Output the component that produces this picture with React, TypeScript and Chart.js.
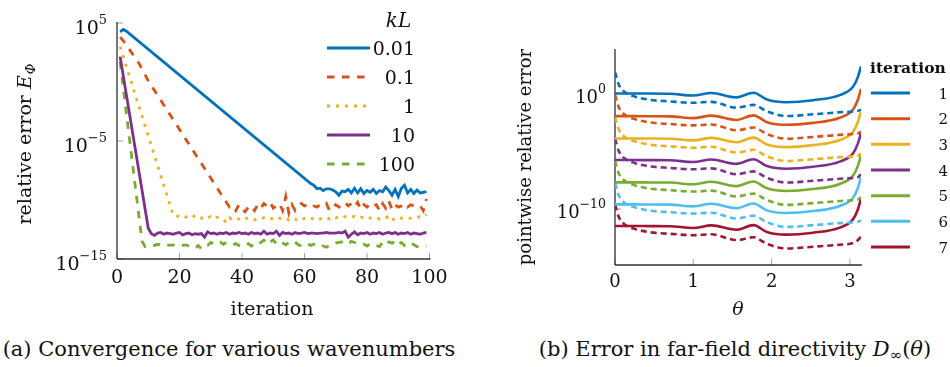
import React, { useEffect, useRef } from "react";
import { Chart, registerables } from "chart.js";
Chart.register(...registerables);

const SERIF = '"DejaVu Serif", serif';

// ---------------- (a) Convergence: log10 of relative error vs iteration ----------------
const kLLabels = ["0.01", "0.1", "1", "10", "100"];
const kLColors = ["#0072BD", "#D95319", "#EDB120", "#7E2F8E", "#77AC30"];
const kLDashes: number[][] = [[], [7.5, 7.5], [3, 6], [], [7.5, 7.5]];
const xTicksA = [0, 20, 40, 60, 80, 100];
const yTicksA = [5, -5, -15];
const xRangeA = [0, 100];
const yRangeA = [-15, 5];

// descent part: [iteration, log10 error]
const head001 = [[1, 4.25], [2, 4.45], [3, 4.3]];
const tail001Start = 62;
const tail001 = [-8.6, -8.75, -9.05, -9.0, -9.2, -9.05, -9.05, -9.15, -9.3, -9.6, -9.25, -9.3, -9.1, -9.4, -9.0, -9.4, -9.05, -9.45, -9.2, -9.35, -9.1, -9.45, -9.2, -9.3, -8.9, -9.2, -9.6, -9.1, -9.7, -9.0, -8.75, -9.4, -9.1, -9.45, -9.15, -9.4, -9.35, -9.3];

const head01 = [[1, 3.8], [2, 3.5], [7, 1.6], [10, 0.1], [35, -10.2]];
const tail01Start = 36;
const tail01 = [-10.6, -10.5, -10.9, -10.4, -10.8, -11.0, -10.6, -10.5, -10.9, -10.4, -10.7, -10.3, -10.5, -10.2, -10.7, -10.5, -10.3, -10.9, -9.7, -11.1, -10.4, -10.9, -10.5, -10.3, -10.5, -10.4, -10.6, -10.5, -10.6, -10.4, -10.5, -10.3, -10.9, -10.6, -10.4, -10.6, -10.3, -10.2, -10.5, -10.3, -10.6, -10.2, -10.8, -10.4, -10.6, -10.3, -10.5, -10.4, -10.9, -10.3, -10.7, -10.1, -10.8, -10.4, -10.6, -10.5, -10.3, -10.6, -10.4, -10.5, -10.6, -10.5, -10.9, -9.9];

const head1 = [[1, 3.0], [18, -11.3]];
const tail1Start = 19;
const tail1 = [-11.35, -11.4, -11.3, -11.45, -11.35, -11.5, -11.3, -11.4, -11.55, -11.35, -11.5, -11.4, -11.6, -11.45, -11.5, -11.65, -11.9, -11.5, -11.7, -11.55, -11.6, -11.75, -11.6, -11.5, -11.6, -11.7, -11.55, -11.6, -11.5, -11.65, -11.55, -11.6, -11.7, -11.55, -11.6, -11.5, -11.7, -11.55, -11.6, -11.8, -11.7, -11.55, -11.65, -11.55, -11.6, -11.45, -11.6, -11.5, -11.45, -11.6, -11.4, -11.5, -11.45, -11.55, -11.4, -11.5, -11.45, -11.4, -11.55, -11.45, -11.5, -11.4, -11.55, -11.45, -11.5, -11.6, -11.45, -11.5, -11.4, -11.75, -11.5, -11.45, -11.55, -11.45, -11.5, -11.55, -11.45, -11.5, -11.4, -11.45, -11.2];

const head10 = [[1, 2.15], [10, -12.4], [11, -12.85], [12, -13.0]];
const tail10Start = 13;
const tail10 = [-12.8, -12.75, -12.9, -12.8, -12.85, -12.9, -12.8, -12.75, -12.95, -12.85, -12.8, -12.95, -12.85, -12.9, -12.85, -13.15, -12.7, -12.85, -12.8, -12.9, -12.8, -12.85, -12.75, -12.9, -12.8, -12.85, -12.75, -12.85, -12.8, -12.9, -12.75, -12.85, -12.8, -12.9, -12.65, -12.9, -12.8, -12.85, -12.65, -13.0, -12.75, -12.85, -12.8, -12.9, -12.75, -12.85, -12.8, -12.75, -12.85, -12.8, -12.8, -12.85, -12.8, -12.8, -12.75, -12.8, -12.8, -12.8, -12.75, -12.8, -12.65, -13.15, -12.9, -12.7, -12.95, -12.8, -12.85, -12.75, -12.9, -12.8, -12.85, -12.75, -12.9, -12.8, -12.75, -12.85, -12.75, -12.9, -12.8, -12.85, -12.75, -12.9, -12.8, -12.85, -12.9, -12.8, -12.75];

const head100 = [[1, 1.7], [8, -13.5]];
const tail100Start = 9;
const tail100 = [-13.95, -13.9, -13.8, -13.85, -13.75, -13.8, -13.7, -13.8, -13.85, -13.8, -13.85, -13.9, -13.85, -13.8, -13.9, -13.95, -14.1, -13.85, -14.15, -13.9, -13.85, -13.6, -13.75, -13.6, -13.55, -13.75, -13.6, -13.7, -13.8, -13.7, -13.85, -13.95, -13.8, -13.7, -13.9, -13.75, -13.85, -13.6, -13.4, -13.75, -13.55, -13.4, -13.7, -13.5, -13.65, -13.8, -13.6, -13.7, -13.55, -13.8, -13.9, -13.75, -13.7, -13.85, -13.75, -13.65, -13.8, -13.9, -14.0, -13.85, -13.8, -13.65, -13.6, -13.55, -13.6, -13.75, -13.5, -13.6, -13.7, -13.8, -13.75, -13.9, -13.7, -13.8, -13.85, -13.95, -13.6, -13.8, -13.55, -13.65, -13.45, -13.75, -13.6, -13.85, -13.7, -13.6, -13.8, -13.95, -13.85, -13.9, -13.9];

const headsA = [head001, head01, head1, head10, head100];
const tailStartsA = [tail001Start, tail01Start, tail1Start, tail10Start, tail100Start];
const tailsA = [tail001, tail01, tail1, tail10, tail100];

// ---------------- (b) Pointwise error vs theta (log10) ----------------
const iterLabels = ["1", "2", "3", "4", "5", "6", "7"];
const iterColors = ["#0072BD", "#D95319", "#EDB120", "#7E2F8E", "#77AC30", "#4DBEEE", "#A2142F"];
const xTicksB = [0, 1, 2, 3];
const yTicksB = [0, -10];
const xRangeB = [0, Math.PI];
const yRangeB = [-14.85, 3.77];
const theta = [0, 0.05, 0.12, 0.25, 0.45, 0.7, 1.0, 1.23, 1.55, 1.77, 1.94, 2.19, 2.53, 2.87, 3.04, 3.1, 3.1416];

const solid1 = [0, 0, 0, 0, 0, -0.02, -0.17, 0.05, -0.33, 0.07, -0.52, -0.75, -0.58, -0.14, 0.58, 1.4, 2.35];
const solid2 = [-1.96, -1.96, -1.96, -1.96, -1.97, -1.98, -2.13, -1.91, -2.29, -1.89, -2.48, -2.71, -2.54, -2.1, -1.38, -0.56, 0.4];
const solid3 = [-3.89, -3.89, -3.89, -3.89, -3.9, -3.91, -4.06, -3.84, -4.22, -3.82, -4.41, -4.64, -4.47, -4.03, -3.31, -2.49, -1.54];
const solid4 = [-5.76, -5.76, -5.76, -5.76, -5.77, -5.78, -5.93, -5.71, -6.09, -5.69, -6.28, -6.51, -6.34, -5.9, -5.18, -4.36, -3.41];
const solid5 = [-7.69, -7.69, -7.69, -7.69, -7.7, -7.71, -7.86, -7.64, -8.02, -7.62, -8.21, -8.44, -8.27, -7.83, -7.11, -6.29, -5.34];
const solid6 = [-9.6, -9.6, -9.6, -9.6, -9.61, -9.62, -9.77, -9.55, -9.93, -9.53, -10.12, -10.35, -10.18, -9.74, -9.02, -8.2, -7.25];
const solid7 = [-11.47, -11.47, -11.47, -11.47, -11.48, -11.49, -11.64, -11.42, -11.8, -11.4, -11.99, -12.22, -12.05, -11.61, -10.89, -10.07, -9.12];

const dashed1 = [1.85, 0.75, 0.15, -0.25, -0.55, -0.68, -0.8, -0.72, -1.22, -0.98, -1.55, -1.95, -1.8, -1.62, -1.55, -1.5, -1.4];
const dashed2 = [-0.11, -1.21, -1.81, -2.21, -2.51, -2.64, -2.76, -2.68, -3.18, -2.94, -3.51, -3.91, -3.76, -3.58, -3.51, -3.46, -3.3];
const dashed3 = [-2.04, -3.14, -3.74, -4.14, -4.44, -4.57, -4.69, -4.61, -5.11, -4.87, -5.44, -5.84, -5.69, -5.51, -5.44, -5.39, -5.2];
const dashed4 = [-3.91, -5.01, -5.61, -6.01, -6.31, -6.44, -6.56, -6.48, -6.98, -6.74, -7.31, -7.71, -7.56, -7.38, -7.31, -7.26, -7.0];
const dashed5 = [-5.84, -6.94, -7.54, -7.94, -8.24, -8.37, -8.49, -8.41, -8.91, -8.67, -9.24, -9.64, -9.49, -9.31, -9.24, -9.19, -9.0];
const dashed6 = [-7.75, -8.85, -9.45, -9.85, -10.15, -10.28, -10.4, -10.32, -10.82, -10.58, -11.15, -11.55, -11.4, -11.22, -11.15, -11.1, -11.0];
const dashed7 = [-9.62, -10.72, -11.32, -11.72, -12.02, -12.15, -12.27, -12.19, -12.69, -12.45, -13.02, -13.42, -13.27, -13.09, -12.95, -12.7, -12.4];

const solidsB = [solid1, solid2, solid3, solid4, solid5, solid6, solid7];
const dashedsB = [dashed1, dashed2, dashed3, dashed4, dashed5, dashed6, dashed7];

// ---------------- drawing helpers ----------------
function line(ctx: CanvasRenderingContext2D, x1: number, y1: number, x2: number, y2: number) {
  ctx.beginPath();
  ctx.moveTo(x1, y1);
  ctx.lineTo(x2, y2);
  ctx.stroke();
}

function drawPow(ctx: CanvasRenderingContext2D, exp: number, rightX: number, tickY: number, bs: number, es: number, bOff: number, eOff: number) {
  const expStr = exp < 0 ? "\u2212" + Math.abs(exp) : String(exp);
  ctx.textAlign = "left";
  ctx.textBaseline = "alphabetic";
  ctx.font = `${bs}px ${SERIF}`;
  const wb = ctx.measureText("10").width;
  ctx.font = `${es}px ${SERIF}`;
  const we = ctx.measureText(expStr).width;
  ctx.font = `${bs}px ${SERIF}`;
  ctx.fillText("10", rightX - we - wb, tickY + bOff);
  ctx.font = `${es}px ${SERIF}`;
  ctx.fillText(expStr, rightX - we, tickY + eOff);
}

type AxisCfg = {
  xTicks: number[];
  yTicks: number[];
  xFmt: (v: number) => string;
  tickFont: number;
  expFont: number;
  yLabelRight: number;
  baseOff: number;
  expOff: number;
  xLabelBaseline: number;
  innerTicks: boolean;
};

function axesPlugin(cfg: AxisCfg, drawExtra: (chart: any) => void) {
  return {
    id: "customAxes",
    beforeDatasetsDraw(chart: any) {
      const { ctx, chartArea: a, scales } = chart;
      const x = scales.x, y = scales.y;
      ctx.save();
      ctx.strokeStyle = "#a0a0a0";
      ctx.lineWidth = 1;
      for (const t of cfg.xTicks) {
        const px = x.getPixelForValue(t);
        line(ctx, px, a.bottom, px, a.bottom - 6);
      }
      for (const e of cfg.yTicks) {
        const py = y.getPixelForValue(Math.pow(10, e));
        line(ctx, a.left, py, a.left + 6, py);
      }
      ctx.strokeStyle = "#2e2e2e";
      ctx.lineWidth = 1.3;
      line(ctx, a.left, a.top - 1, a.left, a.bottom);
      line(ctx, a.left, a.bottom, a.right + 1, a.bottom);
      ctx.restore();
    },
    afterDraw(chart: any) {
      const { ctx, scales } = chart;
      const x = scales.x, y = scales.y;
      ctx.save();
      ctx.fillStyle = "#111";
      ctx.font = `${cfg.tickFont}px ${SERIF}`;
      ctx.textAlign = "center";
      ctx.textBaseline = "alphabetic";
      for (const t of cfg.xTicks) {
        ctx.fillText(cfg.xFmt(t), x.getPixelForValue(t), cfg.xLabelBaseline);
      }
      for (const e of cfg.yTicks) {
        drawPow(ctx, e, cfg.yLabelRight, y.getPixelForValue(Math.pow(10, e)), cfg.tickFont, cfg.expFont, cfg.baseOff, cfg.expOff);
      }
      drawExtra(chart);
      ctx.restore();
    },
  };
}

const baseOptions = (xr: number[], yr: number[], pad: any) => ({
  responsive: false,
  animation: false as const,
  events: [] as any[],
  layout: { padding: pad },
  plugins: { legend: { display: false }, tooltip: { enabled: false } },
  scales: {
    x: { type: "linear" as const, min: xr[0], max: xr[1], display: false },
    y: { type: "logarithmic" as const, min: Math.pow(10, yr[0]), max: Math.pow(10, yr[1]), display: false },
  },
});

export default function App() {
  const refA = useRef<HTMLCanvasElement>(null);
  const refB = useRef<HTMLCanvasElement>(null);

  useEffect(() => {
    // ----- chart (a) -----
    const dsA = kLLabels.map((lab, i) => {
      const pts = headsA[i].map((p) => ({ x: p[0], y: Math.pow(10, p[1]) }));
      tailsA[i].forEach((v, j) => pts.push({ x: tailStartsA[i] + j, y: Math.pow(10, v) }));
      return {
        label: lab,
        data: pts,
        borderColor: kLColors[i],
        borderWidth: 2.8,
        borderDash: kLDashes[i],
        pointRadius: 0,
        fill: false,
        tension: 0,
      };
    });

    const extraA = (chart: any) => {
      const ctx: CanvasRenderingContext2D = chart.ctx;
      // y title
      ctx.save();
      ctx.translate(31, 144);
      ctx.rotate(-Math.PI / 2);
      ctx.textBaseline = "alphabetic";
      ctx.textAlign = "left";
      const t1 = "relative error ";
      ctx.font = `19px ${SERIF}`;
      const w1 = ctx.measureText(t1).width;
      ctx.font = `italic 19px ${SERIF}`;
      const w2 = ctx.measureText("E").width;
      ctx.font = `italic 13px ${SERIF}`;
      const w3 = ctx.measureText("\u03A6").width;
      const start = -(w1 + w2 + w3 + 1) / 2;
      ctx.font = `19px ${SERIF}`;
      ctx.fillText(t1, start, 0);
      ctx.font = `italic 19px ${SERIF}`;
      ctx.fillText("E", start + w1, 0);
      ctx.font = `italic 13px ${SERIF}`;
      ctx.fillText("\u03A6", start + w1 + w2 + 1, 4);
      ctx.restore();
      // x title
      ctx.font = `19px ${SERIF}`;
      ctx.textAlign = "center";
      ctx.fillText("iteration", 272, 315);
      // legend
      ctx.font = `italic 20px ${SERIF}`;
      ctx.fillText("kL", 398.5, 27);
      chart.data.datasets.forEach((ds: any, i: number) => {
        const ly = 48 + 29 * i;
        ctx.save();
        ctx.strokeStyle = ds.borderColor;
        ctx.lineWidth = 3;
        ctx.setLineDash(ds.borderDash);
        line(ctx, 327, ly, 370, ly);
        ctx.restore();
        ctx.font = `19px ${SERIF}`;
        ctx.textAlign = "right";
        ctx.fillText(ds.label, 415, ly + 7);
      });
    };

    const chartA = new Chart(refA.current!, {
      type: "line",
      data: { datasets: dsA as any },
      options: baseOptions(xRangeA, yRangeA, { left: 117, right: 45.5, top: 23, bottom: 61 }) as any,
      plugins: [
        axesPlugin(
          {
            xTicks: xTicksA,
            yTicks: yTicksA,
            xFmt: (v) => String(v),
            tickFont: 19,
            expFont: 13,
            yLabelRight: 107,
            baseOff: 10.5,
            expOff: 1,
            xLabelBaseline: 283,
            innerTicks: true,
          },
          extraA
        ),
      ],
    });

    // ----- chart (b) -----
    const dsB: any[] = [];
    iterLabels.forEach((lab, i) => {
      dsB.push({
        label: lab,
        data: theta.map((t, j) => ({ x: t, y: Math.pow(10, solidsB[i][j]) })),
        borderColor: iterColors[i],
        borderWidth: 2.6,
        pointRadius: 0,
        fill: false,
        cubicInterpolationMode: "monotone",
      });
      dsB.push({
        label: lab + " (dashed)",
        data: theta.map((t, j) => ({ x: t, y: Math.pow(10, dashedsB[i][j]) })),
        borderColor: iterColors[i],
        borderWidth: 2.6,
        borderDash: [6, 4],
        pointRadius: 0,
        fill: false,
        cubicInterpolationMode: "monotone",
      });
    });

    const extraB = (chart: any) => {
      const ctx: CanvasRenderingContext2D = chart.ctx;
      ctx.save();
      ctx.translate(55.5, 157);
      ctx.rotate(-Math.PI / 2);
      ctx.textAlign = "center";
      ctx.textBaseline = "alphabetic";
      ctx.font = `18px ${SERIF}`;
      ctx.fillText("pointwise relative error", 0, 0);
      ctx.restore();
      ctx.font = `italic 19px ${SERIF}`;
      ctx.textAlign = "center";
      ctx.fillText("\u03B8", 263, 315);
      // legend
      ctx.font = `bold 15.5px ${SERIF}`;
      ctx.textAlign = "left";
      ctx.fillText("iteration", 395, 73);
      iterLabels.forEach((lab, i) => {
        const ly = 93 + 25.67 * i;
        ctx.save();
        ctx.strokeStyle = iterColors[i];
        ctx.lineWidth = 3;
        line(ctx, 396, ly, 435, ly);
        ctx.restore();
        ctx.font = `15px ${SERIF}`;
        ctx.textAlign = "right";
        ctx.fillText(lab, 473, ly + 5.5);
      });
    };

    const chartB = new Chart(refB.current!, {
      type: "line",
      data: { datasets: dsB },
      options: baseOptions(xRangeB, yRangeB, { left: 140, right: 89, top: 50, bottom: 55 }) as any,
      plugins: [
        axesPlugin(
          {
            xTicks: xTicksB,
            yTicks: yTicksB,
            xFmt: (v) => String(v),
            tickFont: 18,
            expFont: 12.5,
            yLabelRight: 131,
            baseOff: 9,
            expOff: -1,
            xLabelBaseline: 286.5,
            innerTicks: true,
          },
          extraB
        ),
      ],
    });

    return () => {
      chartA.destroy();
      chartB.destroy();
    };
  }, []);

  const cap: React.CSSProperties = {
    position: "absolute",
    top: 339,
    fontFamily: SERIF,
    fontSize: 21,
    lineHeight: "21px",
    textAlign: "center",
    whiteSpace: "nowrap",
    color: "#111",
  };

  return (
    <div style={{ position: "absolute", left: 0, top: 0, width: 950, height: 367, background: "#fff", overflow: "hidden" }}>
      <canvas ref={refA} width={475} height={320} style={{ position: "absolute", left: 0, top: 0 }} />
      <canvas ref={refB} width={475} height={320} style={{ position: "absolute", left: 475, top: 0 }} />
      <div style={{ ...cap, left: 0, width: 458 }}>(a) Convergence for various wavenumbers</div>
      <div style={{ ...cap, left: 520, width: 430 }}>
        (b) Error in far-field directivity <i>D</i>
        <span style={{ fontSize: 15, position: "relative", top: 4 }}>{"\u221E"}</span>(<i>{"\u03B8"}</i>)
      </div>
    </div>
  );
}
